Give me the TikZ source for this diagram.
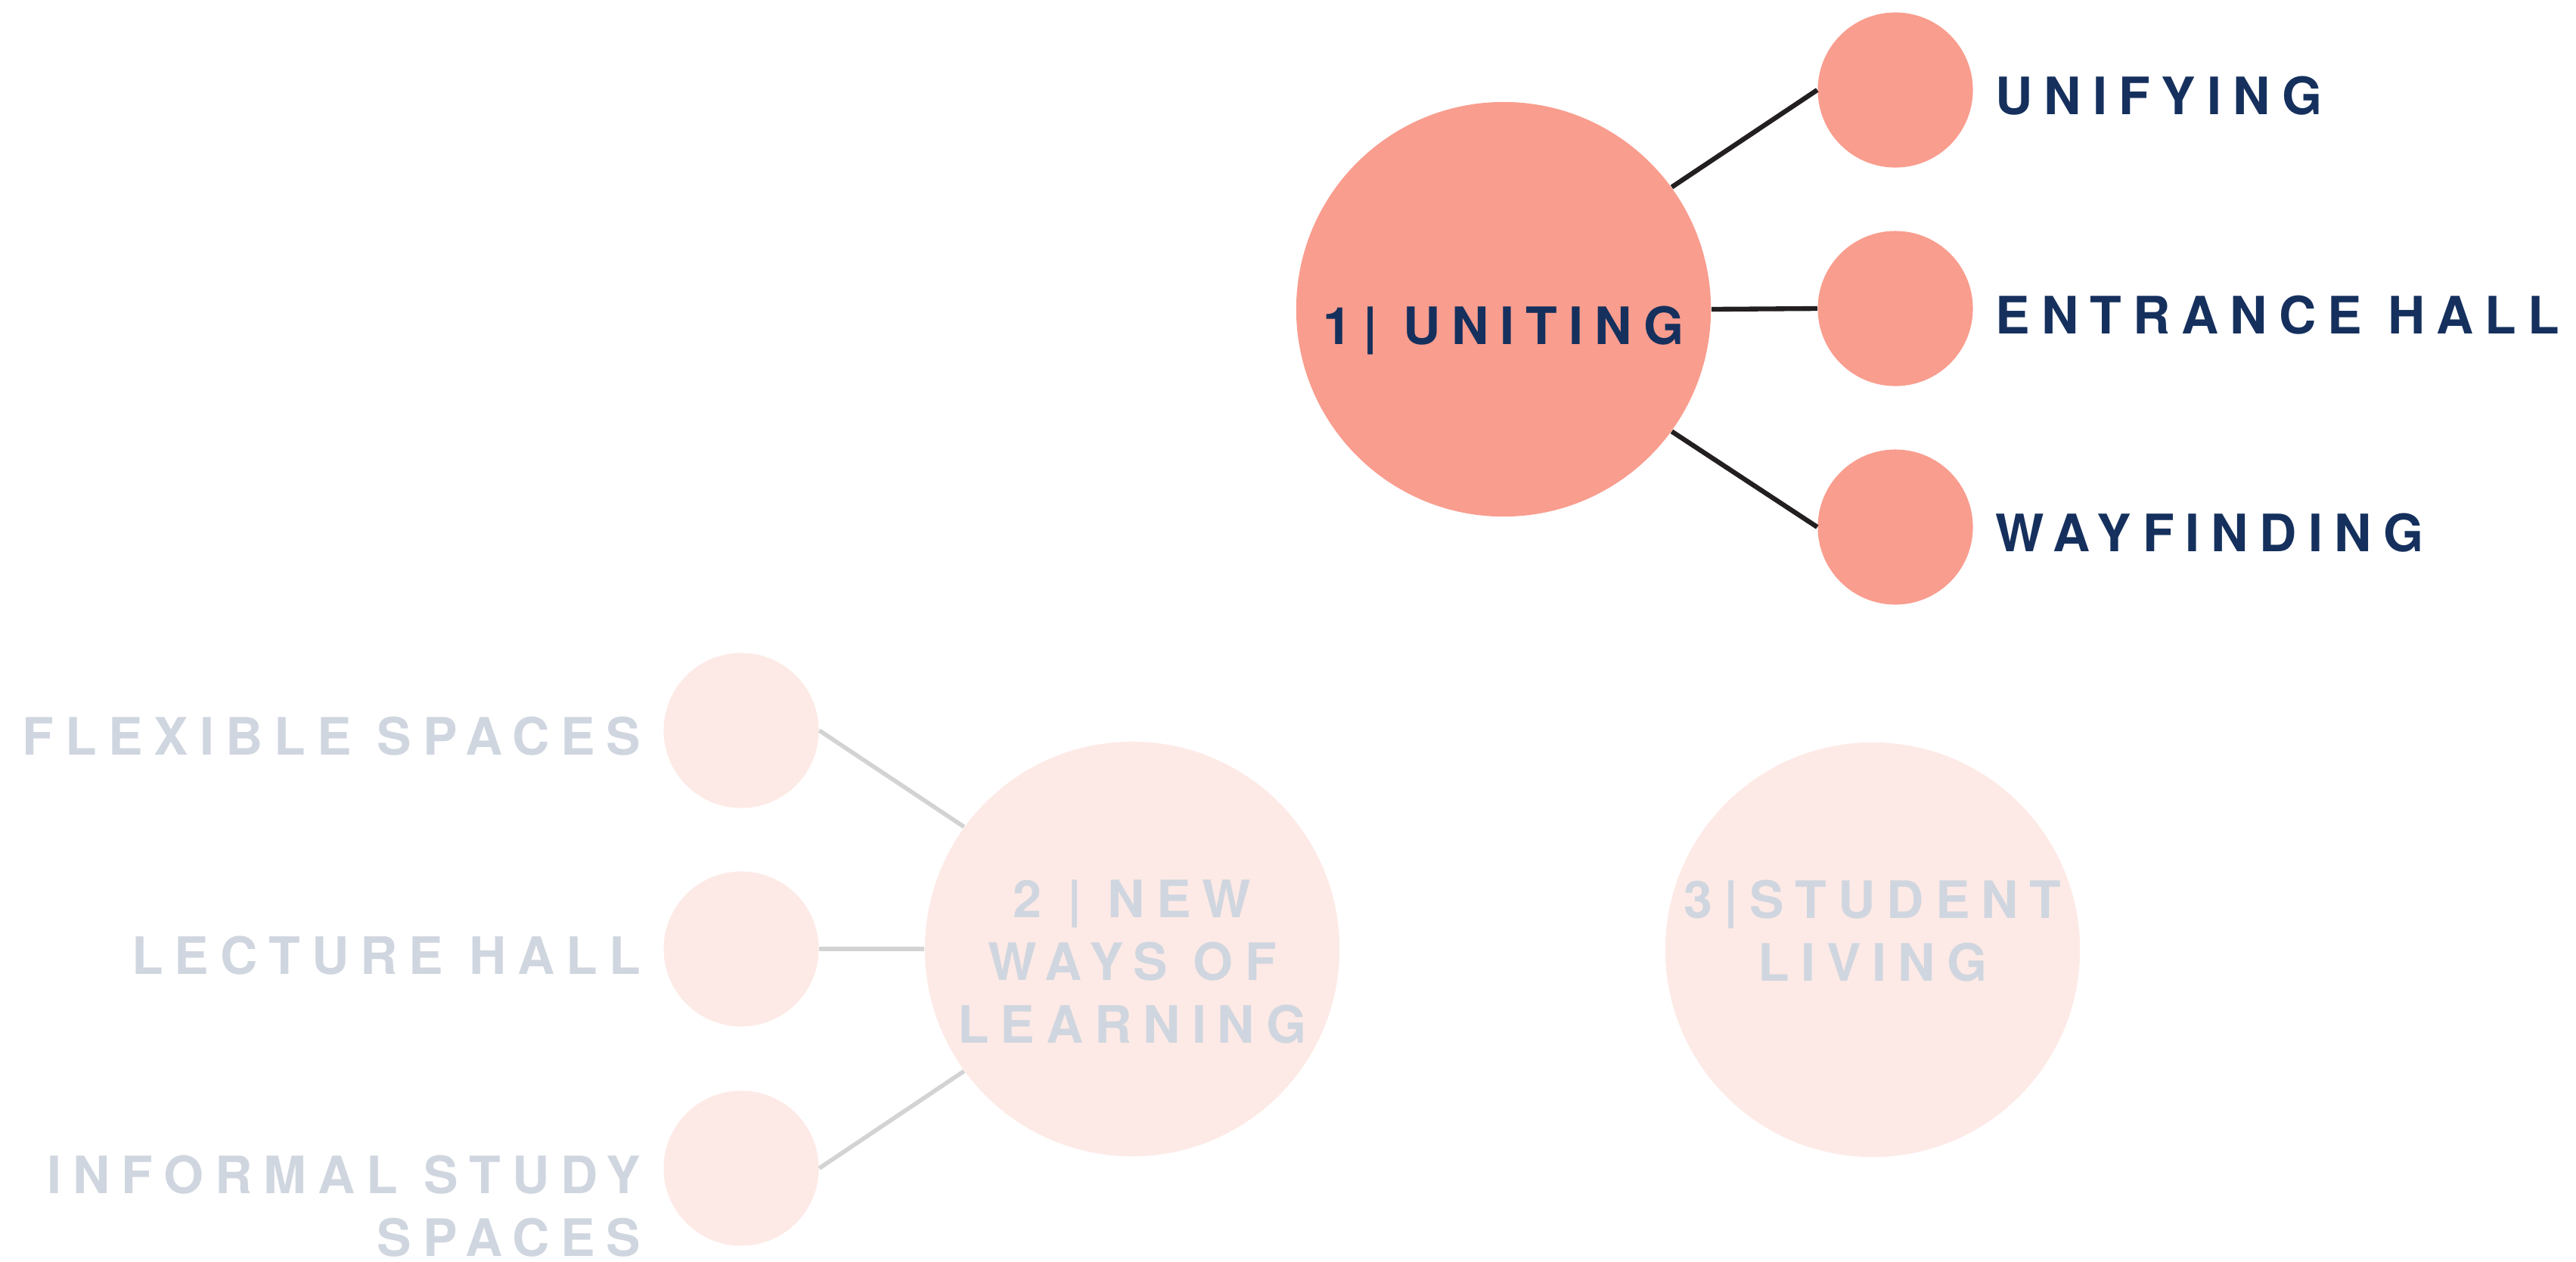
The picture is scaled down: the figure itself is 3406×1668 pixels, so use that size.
\documentclass[tikz,border=0pt]{standalone}
\usepackage{fontspec}
\newfontfamily\labfont{TeX Gyre Heros}[LetterSpace=22]
\definecolor{salmon}{HTML}{F99D8E}
\definecolor{pale}{HTML}{FDEAE6}
\definecolor{navy}{HTML}{15305D}
\definecolor{greytext}{HTML}{D0D6DF}
\definecolor{greyline}{HTML}{D3D3D3}
\definecolor{darkline}{HTML}{231F20}
\begin{document}
\begin{tikzpicture}[x=0.01cm,y=-0.01cm,
  bigc/.style={circle,minimum size=5.48cm,inner sep=0pt},
  smallc/.style={circle,minimum size=2.05cm,inner sep=0pt},
  lab/.style={inner sep=0pt,font=\labfont\bfseries\fontsize{19.4pt}{23.6pt}\selectfont},
  active/.style={lab,text=navy},
  faded/.style={lab,text=greytext},
  darkconn/.style={draw=darkline,line width=1.8pt},
  greyconn/.style={draw=greyline,line width=1.6pt}]
\useasboundingbox (0,0) rectangle (3406,1668);
% group 1
\node[bigc,fill=salmon] (c1) at (1988,409) {};
\node[smallc,fill=salmon] (u1) at (2506,119) {};
\node[smallc,fill=salmon] (u2) at (2506,408) {};
\node[smallc,fill=salmon] (u3) at (2506,697) {};
\draw[darkconn] (c1.36) -- (u1.west);
\draw[darkconn] (c1.east) -- (u2.west);
\draw[darkconn] (c1.-36) -- (u3.west);
\node[active,anchor=base] (t1) at (1988,455) {1| UNITING};
\node[active,anchor=base west] (tu1) at (2638,151) {UNIFYING};
\node[active,anchor=base west] (tu2) at (2638,441) {ENTRANCE HALL};
\node[active,anchor=base west] (tu3) at (2638,729) {WAYFINDING};
% group 2
\node[bigc,fill=pale] (c2) at (1497,1255) {};
\node[smallc,fill=pale] (l1) at (980,966) {};
\node[smallc,fill=pale] (l2) at (980,1255) {};
\node[smallc,fill=pale] (l3) at (980,1545) {};
\draw[greyconn] (l1.east) -- (c2.144);
\draw[greyconn] (l2.east) -- (c2.west);
\draw[greyconn] (l3.east) -- (c2.-144);
\node[faded,anchor=north,align=center] (t2) at (1497,1163) {2 | NEW\\WAYS OF\\LEARNING};
\node[faded,anchor=base east] (tl1) at (848,998) {FLEXIBLE SPACES};
\node[faded,anchor=base east] (tl2) at (848,1288) {LECTURE HALL};
\node[faded,anchor=north east,align=right] (tl3) at (848,1527) {INFORMAL STUDY\\SPACES};
% group 3
\node[bigc,fill=pale] (c3) at (2476,1256) {};
\node[faded,anchor=north,align=center] (t3) at (2476,1163) {3|STUDENT\\LIVING};
\end{tikzpicture}
\end{document}
